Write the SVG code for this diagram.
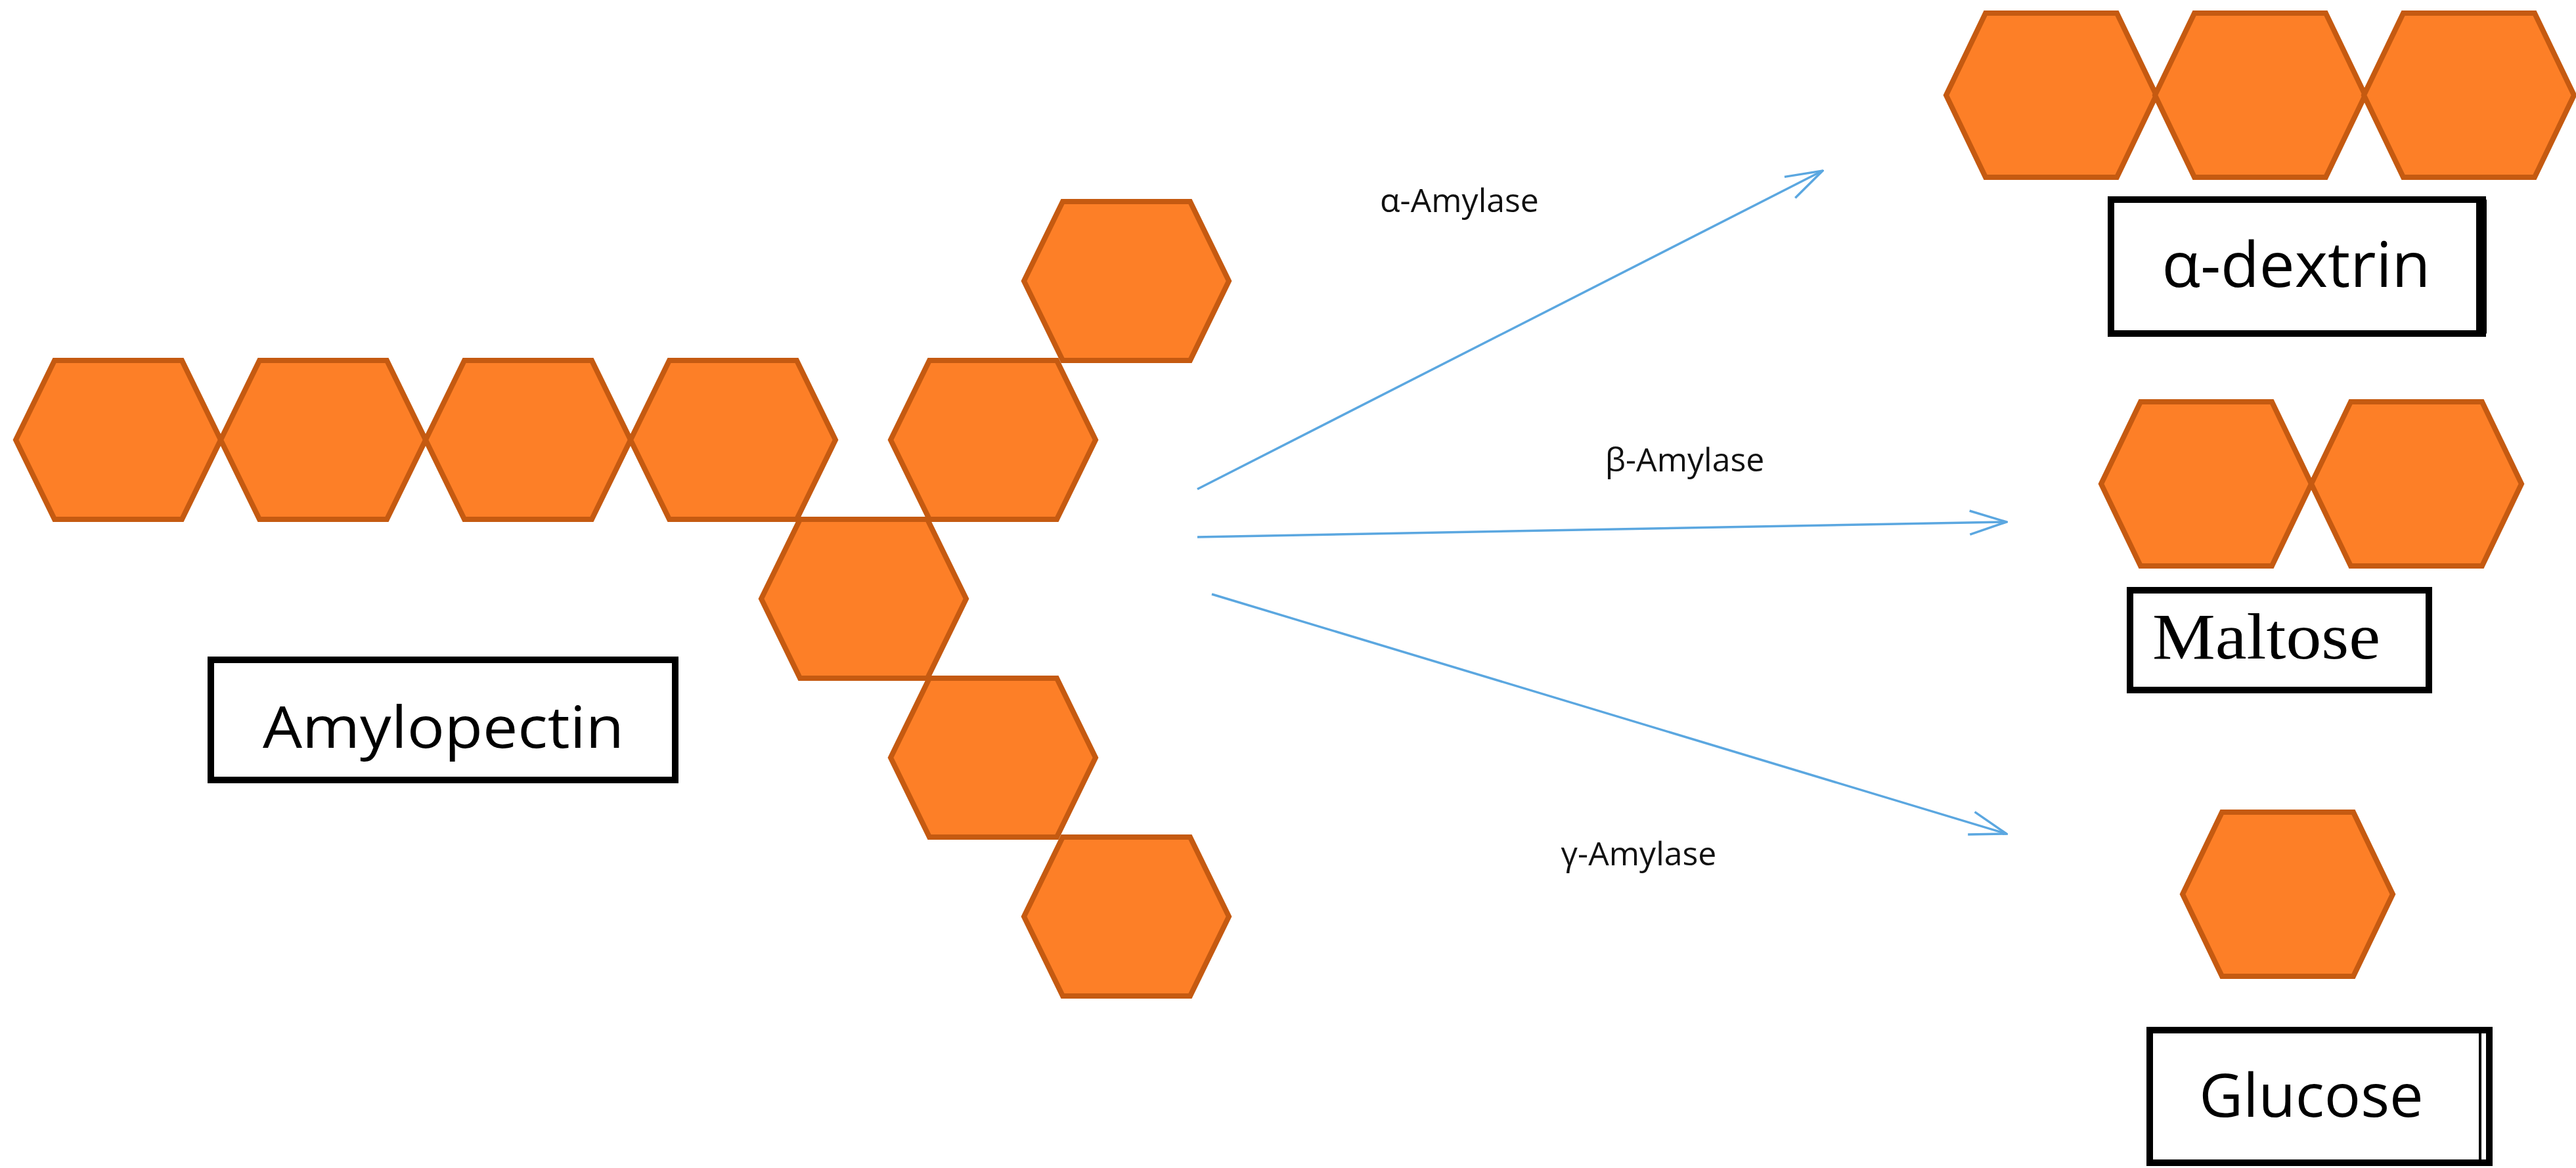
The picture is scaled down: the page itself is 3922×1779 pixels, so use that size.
<svg xmlns="http://www.w3.org/2000/svg" width="3922" height="1779" viewBox="0 0 3922 1779">
<style>
.hx{fill:#FD7F27;stroke:#C55A11;stroke-width:8;stroke-linejoin:miter}
.bx{fill:#fff;stroke:#000;stroke-width:10}
.lb{font-family:"Open Sans","Liberation Sans",sans-serif;fill:#000}
.en{font-family:"Open Sans","Liberation Sans",sans-serif;font-size:50px;fill:#111}
.ar{stroke:#5BA7E0;stroke-width:3.5;fill:none}
</style>
<defs>
<polygon id="h" points="-156,0 -97,-121 97,-121 156,0 97,121 -97,121"/>
<polygon id="h2" points="-160,0 -100,-125 100,-125 160,0 100,125 -100,125"/>
<marker id="m" markerWidth="60" markerHeight="40" refX="58" refY="20" orient="auto" markerUnits="userSpaceOnUse"><path d="M2,2 L58,20 L2,38" fill="none" stroke="#5BA7E0" stroke-width="3.5"/></marker>
</defs>
<g id="amylopectin">
<use href="#h" class="hx" x="180" y="670"/>
<use href="#h" class="hx" x="492" y="670"/>
<use href="#h" class="hx" x="804" y="670"/>
<use href="#h" class="hx" x="1116" y="670"/>
<use href="#h" class="hx" x="1512" y="670"/>
<use href="#h" class="hx" x="1715" y="428"/>
<use href="#h" class="hx" x="1315" y="912"/>
<use href="#h" class="hx" x="1512" y="1154"/>
<use href="#h" class="hx" x="1715" y="1396"/>
<rect class="bx" x="321" y="1005" width="707" height="183"/>
<text class="lb" x="675" y="1139" font-size="88" text-anchor="middle" textLength="550" lengthAdjust="spacingAndGlyphs">Amylopectin</text>
</g>
<g id="dextrin">
<use href="#h2" class="hx" x="3123" y="145"/>
<use href="#h2" class="hx" x="3441" y="145"/>
<use href="#h2" class="hx" x="3759" y="145"/>
<rect class="bx" x="3214" y="304" width="566" height="204"/>
<line x1="3778" y1="304" x2="3778" y2="508" stroke="#000" stroke-width="16"/>
<text class="lb" x="3496" y="437" font-size="96" text-anchor="middle">α-dextrin</text>
</g>
<g id="maltose">
<use href="#h2" class="hx" x="3359" y="737"/>
<use href="#h2" class="hx" x="3679" y="737"/>
<rect class="bx" x="3243" y="899" width="455" height="152"/>
<text x="3277" y="1003" font-family="Liberation Serif,serif" font-size="100" textLength="347" lengthAdjust="spacingAndGlyphs">Maltose</text>
</g>
<g id="glucose">
<use href="#h2" class="hx" x="3483" y="1362"/>
<rect class="bx" x="3273" y="1569" width="517" height="202"/>
<line x1="3776" y1="1569" x2="3776" y2="1771" stroke="#000" stroke-width="4"/>
<text class="lb" x="3519" y="1701" font-size="92" text-anchor="middle">Glucose</text>
</g>
<g id="connectors">
<line class="ar" x1="1823" y1="745" x2="2775" y2="260" marker-end="url(#m)"/>
<line class="ar" x1="1823" y1="818" x2="3055" y2="795" marker-end="url(#m)"/>
<line class="ar" x1="1845" y1="905" x2="3055" y2="1270" marker-end="url(#m)"/>
<text class="en" x="2222" y="323" text-anchor="middle">α-Amylase</text>
<text class="en" x="2565" y="718" text-anchor="middle">β-Amylase</text>
<text class="en" x="2495" y="1318" text-anchor="middle">γ-Amylase</text>
</g>
</svg>
